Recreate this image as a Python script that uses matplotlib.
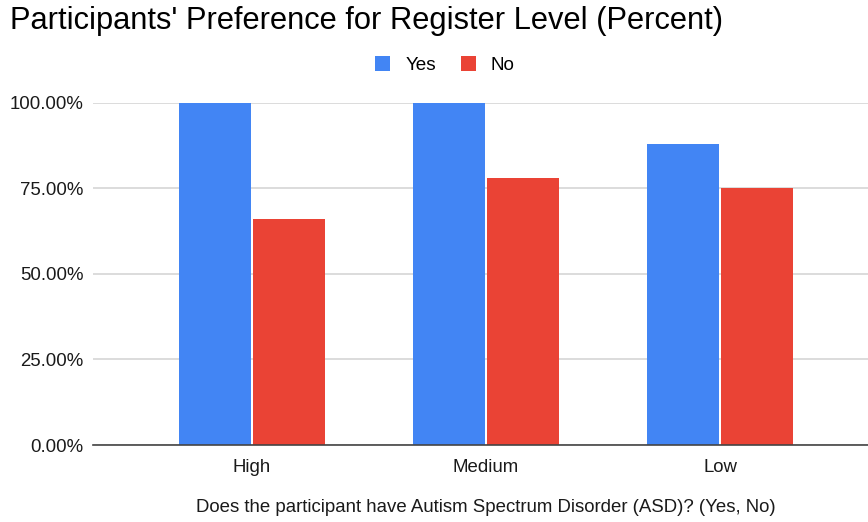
import numpy as np
import matplotlib.pyplot as plt
from matplotlib.ticker import FuncFormatter

plt.rcParams['font.family'] = ['Liberation Sans', 'DejaVu Sans']

categories = ['High', 'Medium', 'Low']
yes_vals = [100.0, 100.0, 88.0]
no_vals = [66.0, 78.0, 75.0]
yticks = [0, 25, 50, 75, 100]

W, H = 868, 522
fig = plt.figure(figsize=(W / 100, H / 100), dpi=100)

# axes box in pixel coords of the reference
left, right, top, bottom = 93, 868, 102.7, 445
ax = fig.add_axes([left / W, 1 - bottom / H, (right - left) / W, (bottom - top) / H])

ind = np.arange(len(categories))
width = 0.308
yes_rects = ax.bar(ind - 0.159, yes_vals, width, color='#4285F4', zorder=3)
no_rects = ax.bar(ind + 0.159, no_vals, width, color='#EA4335', zorder=3)

ax.set_xlim(-0.68, 2.632)
ax.set_ylim(0, 100)
ax.set_yticks(yticks)
ax.yaxis.set_major_formatter(FuncFormatter(lambda v, p: '%.2f%%' % v))
ax.set_xticks(ind)
ax.set_xticklabels(categories)

for s in ['top', 'right', 'left']:
    ax.spines[s].set_visible(False)
ax.spines['bottom'].set_color('#444444')
ax.spines['bottom'].set_linewidth(1.2)
ax.spines['bottom'].set_zorder(4)
ax.grid(axis='y', color='#d6d6d6', linewidth=1.2, zorder=0)
ax.tick_params(axis='both', length=0, labelsize=13.4, colors='#1a1a1a')
ax.tick_params(axis='x', pad=10)
ax.tick_params(axis='y', pad=7)

fig.text(10 / W, 1 - 21 / H, "Participants' Preference for Register Level (Percent)",
         fontsize=22.2, ha='left', va='center', color='#000000')
fig.text(486 / W, 1 - 508 / H,
         'Does the participant have Autism Spectrum Disorder (ASD)? (Yes, No)',
         fontsize=13.4, ha='center', va='center', color='#1a1a1a')

fig.legend((yes_rects[0], no_rects[0]), ('Yes', 'No'), loc='center',
           bbox_to_anchor=(445 / W, 1 - 65 / H), ncol=2, frameon=False,
           fontsize=13.6, handlelength=0.8, handleheight=0.8, columnspacing=1.3,
           handletextpad=0.8)

plt.savefig('out.png', dpi=100)
